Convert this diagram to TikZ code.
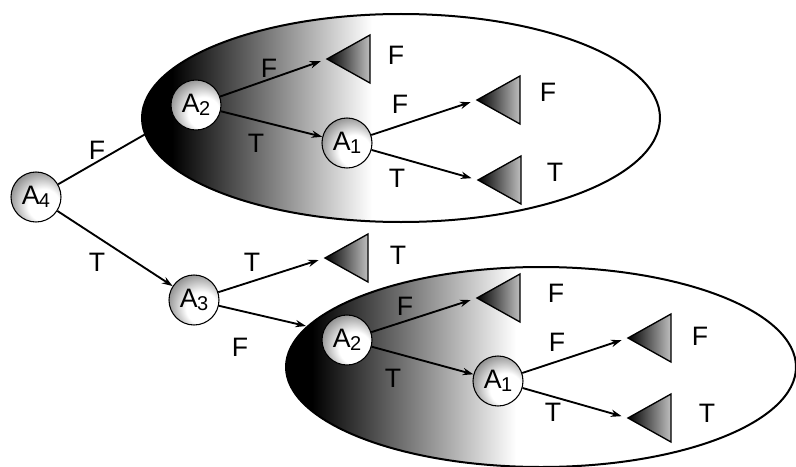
\documentclass[tikz,border=0pt]{standalone}
\usepackage{fontspec}
\setmainfont{Liberation Sans}
\usetikzlibrary{arrows.meta,backgrounds}

% ball-like fill for decision nodes: light at lower right, dark at upper left
\pgfdeclareradialshading{orb}{\pgfpoint{12bp}{-12bp}}{%
  color(0bp)=(white); color(16bp)=(white); color(32bp)=(black!45);
  color(42bp)=(black!88); color(50bp)=(black!95)}

\newcommand{\Asub}[1]{A\kern-0.5pt\raisebox{-2.5pt}{\fontsize{15}{15}\selectfont #1}}

\tikzset{
  dec/.style={circle, draw=black, line width=0.8pt, shading=orb,
    minimum size=37.5pt, inner sep=0pt, font=\fontsize{20}{20}\selectfont},
  lbl/.style={font=\fontsize{20}{20}\selectfont, inner sep=0pt},
  arr/.style={line width=1.4pt, -{Stealth[length=8pt,width=5.5pt]}},
  toleaf/.style={arr, shorten >=5pt},
  leaf/.style={draw=black, line width=1pt, left color=black, right color=black!25},
  rim/.style={draw=black, line width=1.5pt, fill=white}
}

% a leaf triangle pointing left, its tip named #1
\newcommand{\leafat}[3]{%
  \coordinate (#1) at (#2,#3);
  \path[leaf] (#1) -- ++(43,-24) -- ++(0,48) -- cycle;}

\begin{document}
\begin{tikzpicture}[x=0.75pt, y=-0.75pt]
\useasboundingbox (0,0) rectangle (796,467);

% decision nodes
\node[dec] (A4)  at (36,197)  {\Asub{4}};
\node[dec] (A3)  at (194,300) {\Asub{3}};
\node[dec] (A2t) at (196,105) {\Asub{2}};
\node[dec] (A1t) at (347,143) {\Asub{1}};
\node[dec] (A2b) at (347,340) {\Asub{2}};
\node[dec] (A1b) at (498,381) {\Asub{1}};

% leaves
\leafat{LtF}{327}{59}
\leafat{LtFF}{477}{100}
\leafat{LtFT}{478}{180}
\leafat{LmT}{325}{258}
\leafat{LbF}{477}{298}
\leafat{LbFF}{628}{338}
\leafat{LbFT}{628}{418}

\coordinate (Bin) at (306,326);

% connectors
\draw[toleaf] (A2t) -- (LtF);
\draw[arr] (A2t) -- (A1t);
\draw[toleaf] (A1t) -- (LtFF);
\draw[toleaf] (A1t) -- (LtFT);
\draw[arr] (A4) -- (A3);
\draw[toleaf] (A3) -- (LmT);
\draw[arr] (A3) -- (Bin);
\draw[toleaf] (A2b) -- (LbF);
\draw[arr] (A2b) -- (A1b);
\draw[toleaf] (A1b) -- (LbFF);
\draw[toleaf] (A1b) -- (LbFT);

% branch labels
\node[lbl] (l1)  at (97,150)  {F};
\node[lbl] (l2)  at (97,262)  {T};
\node[lbl] (l3)  at (269,68)  {F};
\node[lbl] (l4)  at (256,143) {T};
\node[lbl] (l5)  at (400,104) {F};
\node[lbl] (l6)  at (397,178) {T};
\node[lbl] (l7)  at (252,262) {T};
\node[lbl] (l8)  at (240,347) {F};
\node[lbl] (l9)  at (405,306) {F};
\node[lbl] (l10) at (393,378) {T};
\node[lbl] (l11) at (557,342) {F};
\node[lbl] (l12) at (553,412) {T};

% leaf values
\node[lbl] (v1) at (396,55)  {F};
\node[lbl] (v2) at (548,92)  {F};
\node[lbl] (v3) at (555,172) {T};
\node[lbl] (v4) at (398,255) {T};
\node[lbl] (v5) at (556,293) {F};
\node[lbl] (v6) at (700,336) {F};
\node[lbl] (v7) at (707,413) {T};

% sub-tree regions, shaded dark on the left and fading to white
\begin{scope}[on background layer]
  \draw[line width=1.4pt] (A4) -- (A2t);
  \draw[rim, path picture={
      \fill[black] (130,0) rectangle (172,240);
      \shade[left color=black, right color=white] (172,0) rectangle (372,240);}]
    (401,118) ellipse [x radius=259, y radius=104];
  \draw[rim, path picture={
      \fill[black] (280,250) rectangle (312,480);
      \shade[left color=black, right color=white] (312,250) rectangle (516,480);}]
    (541,367) ellipse [x radius=255, y radius=100];
\end{scope}
\end{tikzpicture}
\end{document}
